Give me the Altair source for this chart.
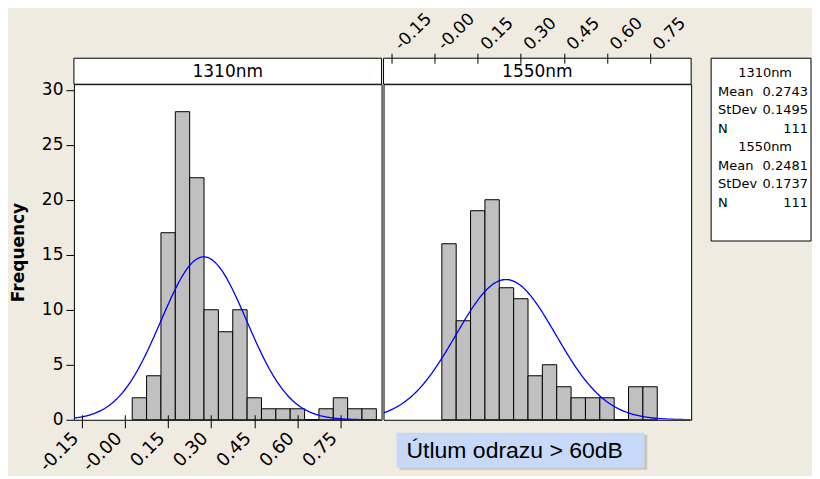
import altair as alt
import pandas as pd

# ---------------- data ----------------
groups = ["1310nm", "1550nm"]
bin_centers = [0.05, 0.10, 0.15, 0.20, 0.25, 0.30, 0.35, 0.40, 0.45,
               0.50, 0.55, 0.60, 0.65, 0.70, 0.75, 0.80, 0.85]
counts_1310 = [2, 4, 17, 28, 22, 10, 8, 10, 2, 1, 1, 1, 0, 1, 2, 1, 1]
counts_1550 = [16, 9, 19, 20, 12, 11, 4, 5, 3, 2, 2, 2, 0, 3, 3]
means = [0.2743, 0.2481]
stdevs = [0.1495, 0.1737]
ns = [111, 111]
bin_width = 0.05
x_tick_values = [-0.15, 0.0, 0.15, 0.30, 0.45, 0.60, 0.75]
x_tick_labels = ["-0.15", "-0.00", "0.15", "0.30", "0.45", "0.60", "0.75"]
y_tick_values = [0, 5, 10, 15, 20, 25, 30]
y_title = "Frequency"
caption = "Útlum odrazu > 60dB"

# ---------------- style ----------------
FONT = "DejaVu Sans"
BG = "#EFEBE1"
BAR = "#C0C0C0"
CURVE = "#0000FF"
W, H = 308, 336
HEADER = 26
XDOM = [-0.178, 0.893]
YDOM = [0, 30.5]

xscale = alt.Scale(domain=XDOM, nice=False, zero=False)
yscale = alt.Scale(domain=YDOM, nice=False, zero=False)

label_expr = ("[" + ",".join(f"'{t}'" for t in x_tick_labels) + "][indexof(["
              + ",".join(str(round(v * 100)) for v in x_tick_values)
              + "], round(datum.value*100))]")


def x_axis(orient):
    kw = dict(values=x_tick_values, labelExpr=label_expr, labelAngle=-45,
              labelFont=FONT, labelColor="black",
              tickColor="black", domain=False, grid=False, title=None, zindex=1,
              labelOverlap=False, labelFlush=False, tickWidth=1)
    if orient == "bottom":
        kw.update(orient="bottom", offset=-5, tickSize=13, labelAlign="right",
                  labelBaseline="bottom", labelPadding=14, labelFontSize=18)
    else:
        kw.update(orient="top", offset=HEADER - 5, tickSize=10, labelAlign="left",
                  labelBaseline="top", labelPadding=12, labelFontSize=17)
    return alt.Axis(**kw)


y_axis = alt.Axis(values=y_tick_values, title=y_title, titleFont=FONT,
                  titleFontSize=17, titleFontWeight="bold", titleColor="black",
                  titlePadding=14, labelFont=FONT, labelFontSize=17,
                  labelColor="black", tickSize=8, tickColor="black",
                  labelPadding=3, domain=False, grid=False)


def panel(idx, centers, counts, bar_axis, show_y):
    name, mean, sd, n = groups[idx], means[idx], stdevs[idx], ns[idx]
    df = pd.DataFrame({"center": centers[:len(counts)], "count": counts})
    yax = y_axis if show_y else None
    bars = alt.Chart(df).transform_calculate(
        x0=f"datum.center - {bin_width / 2}",
        x1=f"datum.center + {bin_width / 2}",
    ).mark_rect(fill=BAR, stroke="black", strokeWidth=1).encode(
        x=alt.X("x0:Q", scale=xscale, axis=bar_axis),
        x2="x1:Q",
        y=alt.Y("count:Q", scale=yscale, axis=yax),
        y2=alt.datum(0),
    )
    curve = alt.Chart(alt.sequence(XDOM[0], XDOM[1], 0.004, as_="x")).transform_calculate(
        f=f"{n * bin_width}/({sd}*sqrt(2*PI))*exp(-0.5*pow((datum.x-{mean})/{sd},2))"
    ).mark_line(color=CURVE, strokeWidth=1.3, clip=True).encode(
        x=alt.X("x:Q", scale=xscale, axis=None),
        y=alt.Y("f:Q", scale=yscale, axis=yax),
    )
    hdata = alt.Data(values=[{"label": name}])
    hdr = alt.Chart(hdata).mark_rect(fill="white", stroke="black", strokeWidth=1).encode(
        x=alt.value(0), x2=alt.value(W), y=alt.value(-HEADER), y2=alt.value(0))
    hdr_text = alt.Chart(hdata).mark_text(font=FONT, fontSize=17, baseline="middle",
                                          align="center", color="black").encode(
        text="label:N", x=alt.value(W / 2), y=alt.value(-HEADER / 2 + 1))
    return [bars, curve, hdr, hdr_text]


left = alt.layer(*panel(0, bin_centers, counts_1310, x_axis("bottom"), True)
                 ).resolve_axis(x="independent").properties(width=W, height=H)

# caption box (in right panel)
cdata = alt.Data(values=[{"t": caption}])
cap_shadow = alt.Chart(cdata).mark_rect(fill="#9A9A9A", opacity=0.45).encode(
    x=alt.value(16), x2=alt.value(264), y=alt.value(H + 15), y2=alt.value(H + 50))
cap_rect = alt.Chart(cdata).mark_rect(fill="#C6D9F8").encode(
    x=alt.value(13), x2=alt.value(261), y=alt.value(H + 13), y2=alt.value(H + 48))
cap_text = alt.Chart(cdata).mark_text(font="Liberation Sans", fontSize=23, align="left",
                                      baseline="middle", color="black").encode(
    text="t:N", x=alt.value(23), y=alt.value(H + 31))

inner_right = alt.layer(*panel(1, bin_centers, counts_1550, x_axis("top"), False),
                        cap_shadow, cap_rect, cap_text).resolve_axis(x="independent")

# legend (stats box)
leg_rows = []
r = 0
for g, m, s, n in zip(groups, means, stdevs, ns):
    leg_rows.append({"row": r, "kind": "title", "label": g, "value": ""})
    r += 1
    for lab, val in [("Mean", f"{m:.4f}"), ("StDev", f"{s:.4f}"), ("N", str(n))]:
        leg_rows.append({"row": r, "kind": "stat", "label": lab, "value": val})
        r += 1
leg_df = pd.DataFrame(leg_rows)
rowscale = alt.Scale(domain=[0, 7], range=[-11, 119], nice=False, zero=False)

leg_box = alt.Chart(alt.Data(values=[{"a": 1}])).mark_rect(fill="white", stroke="black", strokeWidth=1).encode(
    x=alt.value(W + 20), x2=alt.value(W + 120), y=alt.value(-26), y2=alt.value(157))
leg_title = alt.Chart(leg_df).transform_filter("datum.kind == 'title'").mark_text(
    font=FONT, fontSize=13, align="center", baseline="middle", color="black").encode(
    text="label:N", x=alt.value(W + 74), y=alt.Y("row:Q", scale=rowscale, axis=None))
leg_label = alt.Chart(leg_df).transform_filter("datum.kind == 'stat'").mark_text(
    font=FONT, fontSize=13, align="left", baseline="middle", color="black").encode(
    text="label:N", x=alt.value(W + 27), y=alt.Y("row:Q", scale=rowscale, axis=None))
leg_value = alt.Chart(leg_df).transform_filter("datum.kind == 'stat'").mark_text(
    font=FONT, fontSize=13, align="right", baseline="middle", color="black").encode(
    text="value:N", x=alt.value(W + 117), y=alt.Y("row:Q", scale=rowscale, axis=None))
legend = alt.layer(leg_box, leg_title, leg_label, leg_value)

right = alt.layer(inner_right, legend).resolve_scale(x="independent", y="independent").properties(width=W, height=H)

chart = alt.hconcat(left, right, spacing=0).properties(
    background=BG, padding=0
).configure_view(fill="white", stroke="black", strokeWidth=1)

chart.save("out.html", embed_options={"renderer": "svg", "actions": False})
